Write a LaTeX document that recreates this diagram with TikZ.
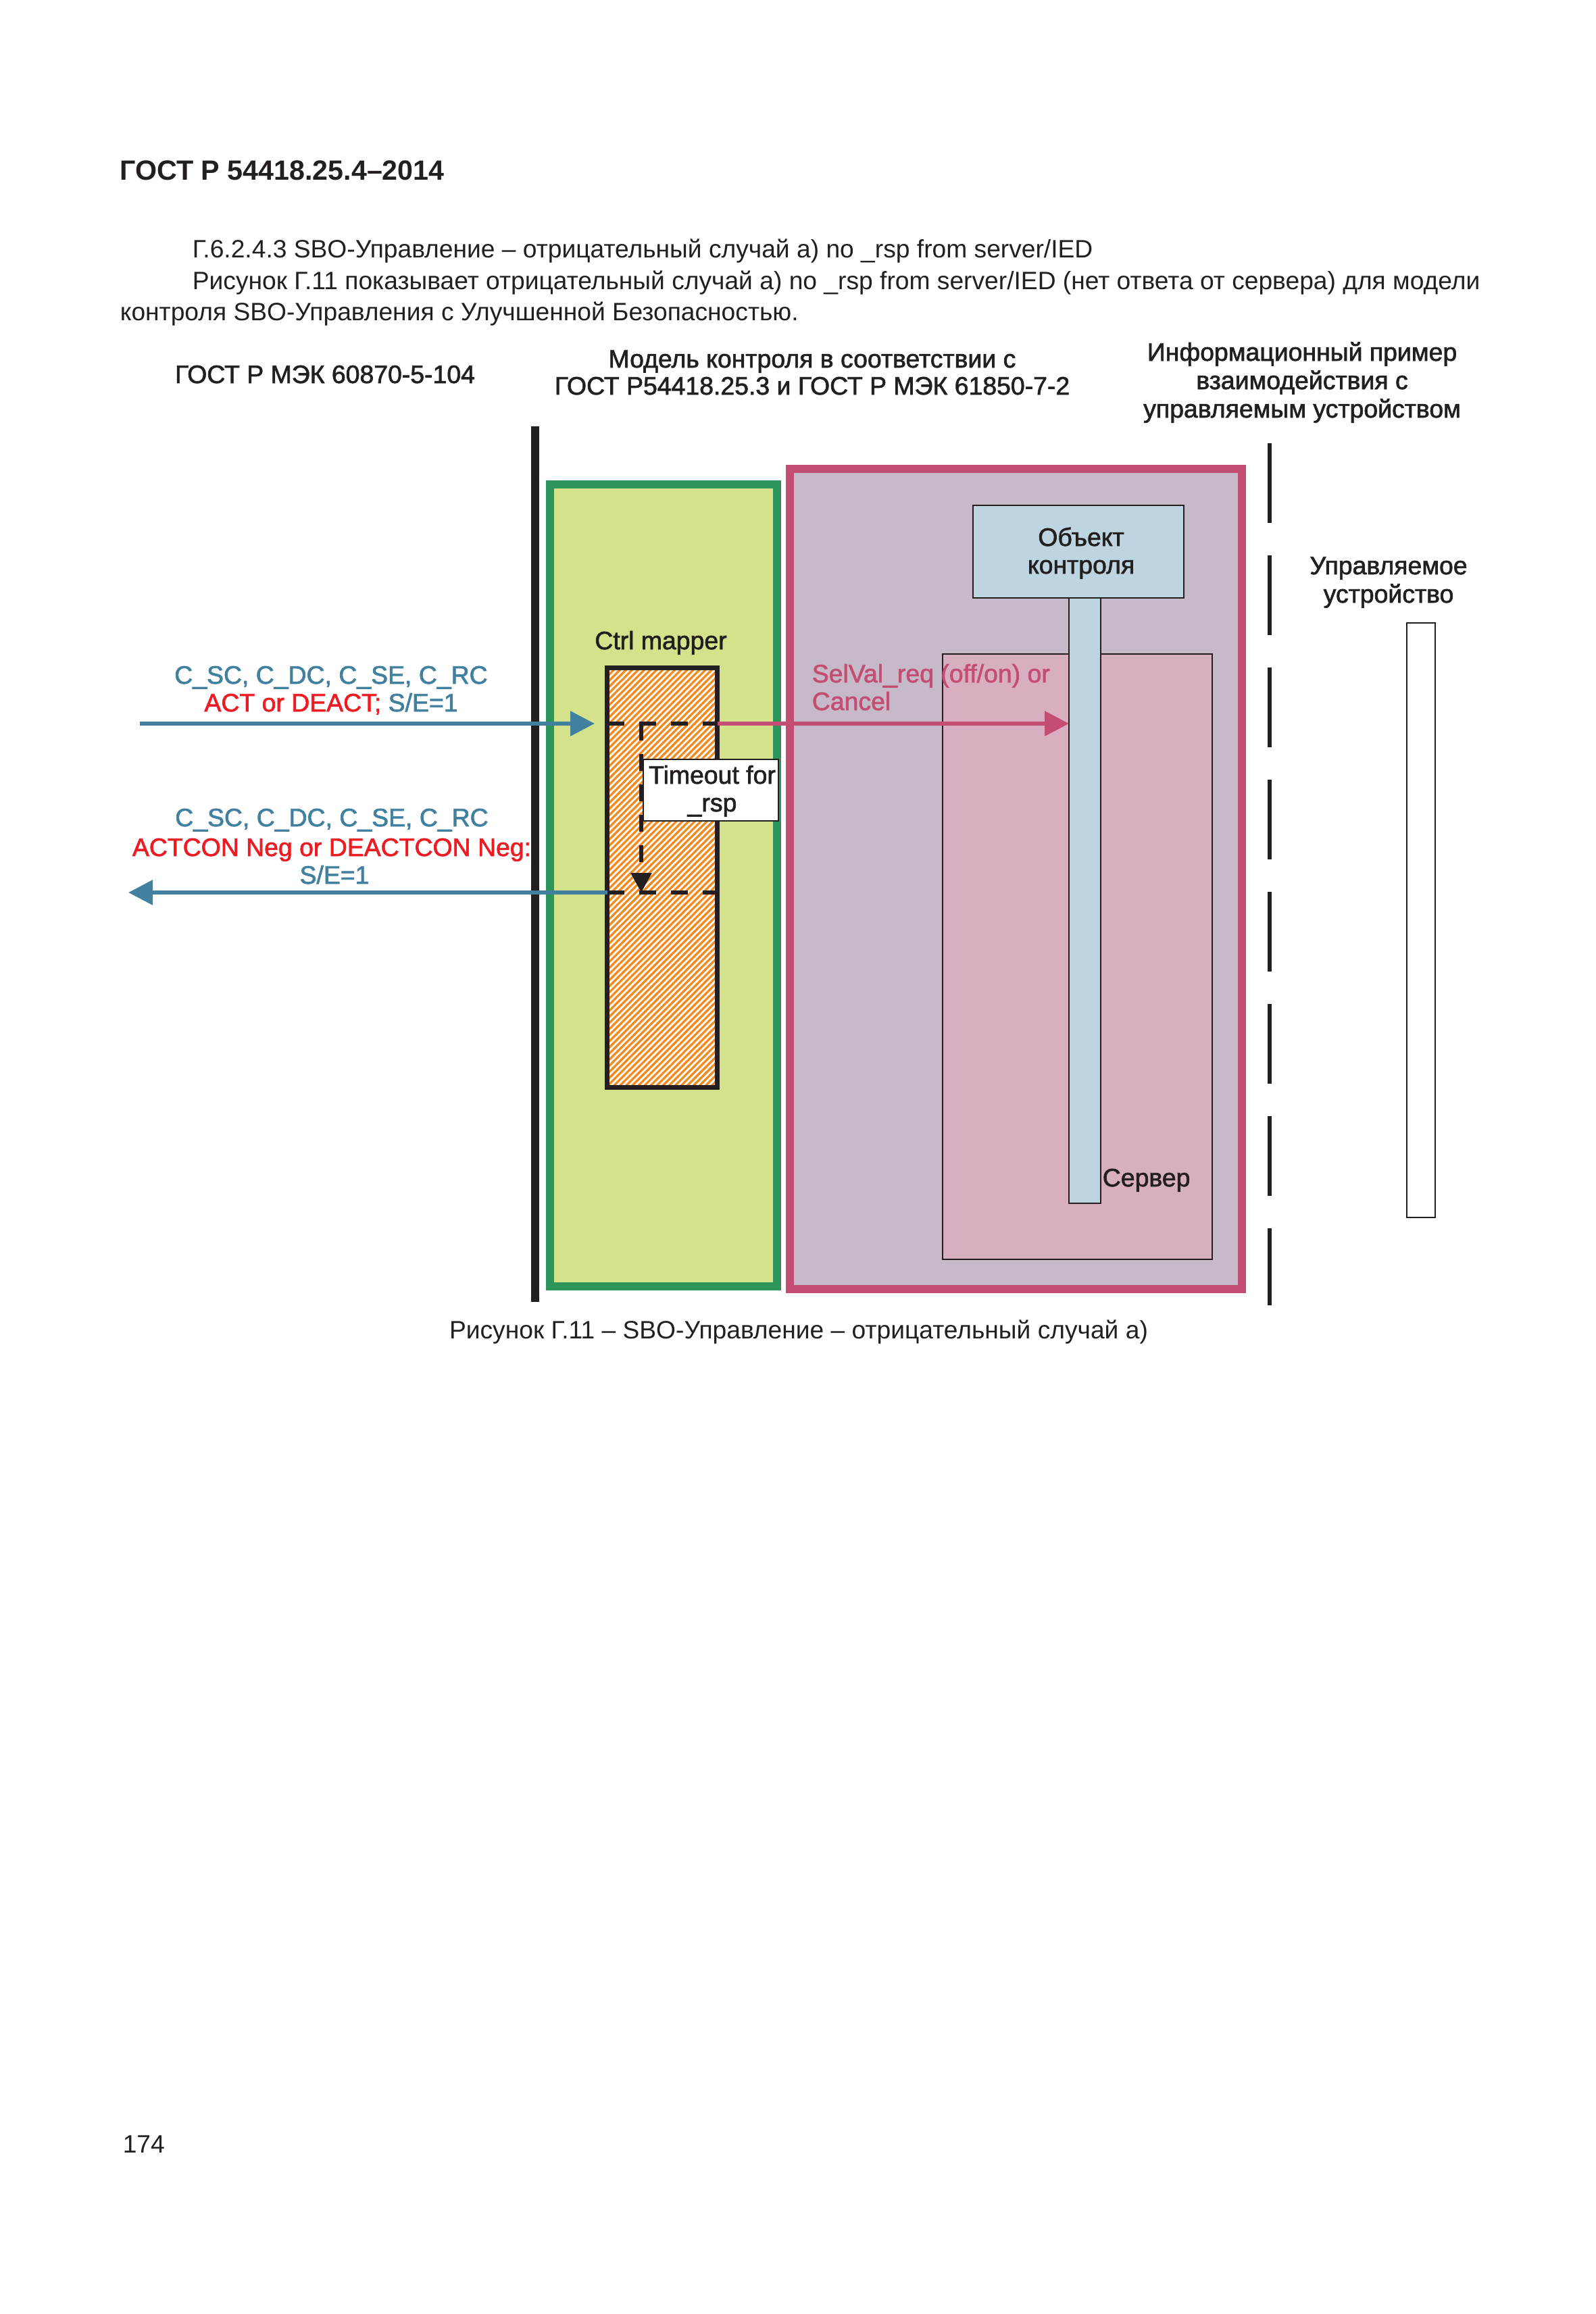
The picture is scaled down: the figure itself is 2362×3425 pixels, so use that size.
\documentclass[tikz,border=0pt]{standalone}
\usepackage{fontspec}
\setmainfont{Liberation Sans}
\newfontfamily\heavyfont{Liberation Sans}[FakeBold=1.8]
\usetikzlibrary{arrows.meta,patterns.meta,fit}
\definecolor{gfill}{HTML}{D4E28B}
\definecolor{gline}{HTML}{2E955A}
\definecolor{pfill}{HTML}{C6B9C8}
\definecolor{pline}{HTML}{C44E73}
\definecolor{pinner}{HTML}{D7AFC0}
\definecolor{lblue}{HTML}{BCD5E1}
\definecolor{orng}{HTML}{F58A1F}
\definecolor{ablue}{HTML}{41809E}
\definecolor{tred}{HTML}{ED1C24}
\definecolor{ink}{HTML}{231F20}
\tikzset{
  txt/.style={inner sep=0pt, anchor=base, text=ink, font=\fontsize{9.3}{10.5}\selectfont},
  txtw/.style={txt, anchor=base west},
  dtxt/.style={txt, font=\heavyfont\fontsize{9.35}{10.5}\selectfont},
  dtxtw/.style={dtxt, anchor=base west},
  box/.style={rectangle, inner sep=0pt, outer sep=0pt},
  thinbox/.style={box, draw=ink, line width=0.5pt},
  frame/.style={box, line width=3pt},
  barrow/.style={draw=ablue, line width=1.5pt, -{Triangle[length=9pt,width=9pt]}},
  parrow/.style={draw=pline, line width=1.5pt, -{Triangle[length=9pt,width=9pt]}},
  karrow/.style={draw=ink, line width=1.5pt, dash pattern=on 6.25pt off 5pt, -{Triangle[length=7.25pt,width=7.5pt]}},
  mdash/.style={draw=ink, line width=1.5pt, dash pattern=on 6.25pt off 5.5pt},
  lifedash/.style={draw=ink, line width=1.4pt, dash pattern=on 29.5pt off 12pt},
  solidlife/.style={draw=ink, line width=2.9pt}
}
\begin{document}
\begin{tikzpicture}[x=0.25pt,y=-0.25pt]
\useasboundingbox[fill=white] (0,0) rectangle (2362,3425);

% page texts
\node[txtw, font=\bfseries\fontsize{10.3}{12}\selectfont] (hdr) at (177,267) {ГОСТ Р 54418.25.4–2014};
\node[txtw] (p1) at (284,382) {Г.6.2.4.3 SBO-Управление – отрицательный случай а) no \_rsp from server/IED};
\node[txtw] (p2) at (284,428) {Рисунок Г.11 показывает отрицательный случай а) no \_rsp from server/IED (нет ответа от сервера) для модели};
\node[txtw] (p3) at (177,474) {контроля SBO-Управления с Улучшенной Безопасностью.};
\node[txtw] (pgnum) at (181,3186) {174};
\node[txt] (cap) at (1182,1981) {Рисунок Г.11 – SBO-Управление – отрицательный случай а)};

% column headings
\node[dtxt] (h1) at (481,567) {ГОСТ Р МЭК 60870-5-104};
\node[dtxt] (h2a) at (1202,544) {Модель контроля в соответствии с};
\node[dtxt] (h2b) at (1202,584) {ГОСТ Р54418.25.3 и ГОСТ Р МЭК 61850-7-2};
\node[dtxt] (h3a) at (1927,534) {Информационный пример};
\node[dtxt] (h3b) at (1927,576) {взаимодействия с};
\node[dtxt] (h3c) at (1927,618) {управляемым устройством};

% frames
\node[frame, draw=gline, fill=gfill, fit={(814,717) (1150,1904)}] (green) {};
\node[frame, draw=pline, fill=pfill, fit={(1169,694) (1838,1908)}] (pink) {};
\node[thinbox, fill=pinner, fit={(1395,968) (1794,1864)}] (server) {};

% left solid lifeline and right dashed lifeline
\coordinate (lTop) at (792,631);
\coordinate (lBot) at (792,1927);
\draw[solidlife] (lTop) -- (lBot);
\coordinate (dTop) at (1879,656);
\coordinate (dBot) at (1879,1932);
\draw[lifedash] (dTop) -- (dBot);

% control object
\node[thinbox, fill=lblue, fit={(1440,748) (1752,885)}] (obj) {};
\node[dtxt] (objA) at (1600,808) {Объект};
\node[dtxt] (objB) at (1600,849) {контроля};
\node[thinbox, fill=lblue, fit={(1582,885) (1629,1781)}] (bar) {};
\node[dtxtw] (srv) at (1631,1756) {Сервер};

% controlled device
\node[dtxt] (devA) at (2055,850) {Управляемое};
\node[dtxt] (devB) at (2055,892) {устройство};
\node[thinbox, fill=white, fit={(2082,922) (2124,1802)}] (dev) {};

% ctrl mapper
\node[dtxt] (cmt) at (978,961) {Ctrl mapper};
\node[box, draw=ink, line width=1.75pt, preaction={fill=orng},
      pattern={Lines[angle=45,distance=1.6pt,line width=0.7pt]}, pattern color=white,
      fit={(898.5,988.5) (1061.5,1609.5)}] (mapper) {};

\coordinate (inStart) at (207,1071);
\coordinate (inTip) at (880,1071);
\coordinate (tTop) at (949,1071);
\coordinate (tBot) at (949,1321);
\coordinate (outTip) at (190,1321);

\draw[mdash] (mapper.west |- tTop) -- (mapper.east |- tTop);
\draw[mdash] (mapper.west |- tBot) -- (mapper.east |- tBot);
\draw[karrow] (tTop) -- (tBot);

\node[thinbox, fill=white, fit={(952,1124) (1152,1215)}] (tbox) {};
\node[dtxt] (tA) at (1054,1160) {Timeout for};
\node[dtxt] (tB) at (1054,1201) {\_rsp};

% messages
\draw[barrow] (inStart) -- (inTip);
\draw[parrow] (mapper.east |- inTip) -- (bar.west |- inTip);
\draw[barrow] (mapper.west |- tBot) -- (outTip);

\node[dtxt, text=ablue] (m1a) at (490,1012) {C\_SC, C\_DC, C\_SE, C\_RC};
\node[dtxt] (m1b) at (490,1053) {\textcolor{tred}{ACT or DEACT;} \textcolor{ablue}{S/E=1}};
\node[dtxt, text=ablue] (m2a) at (491,1223) {C\_SC, C\_DC, C\_SE, C\_RC};
\node[dtxt, text=tred] (m2b) at (491,1267) {ACTCON Neg or DEACTCON Neg:};
\node[dtxt, text=ablue] (m2c) at (495,1308) {S/E=1};
\node[dtxtw, text=pline] (selA) at (1201,1010) {SelVal\_req (off/on) or};
\node[dtxtw, text=pline] (selB) at (1201,1051) {Cancel};
\end{tikzpicture}
\end{document}
